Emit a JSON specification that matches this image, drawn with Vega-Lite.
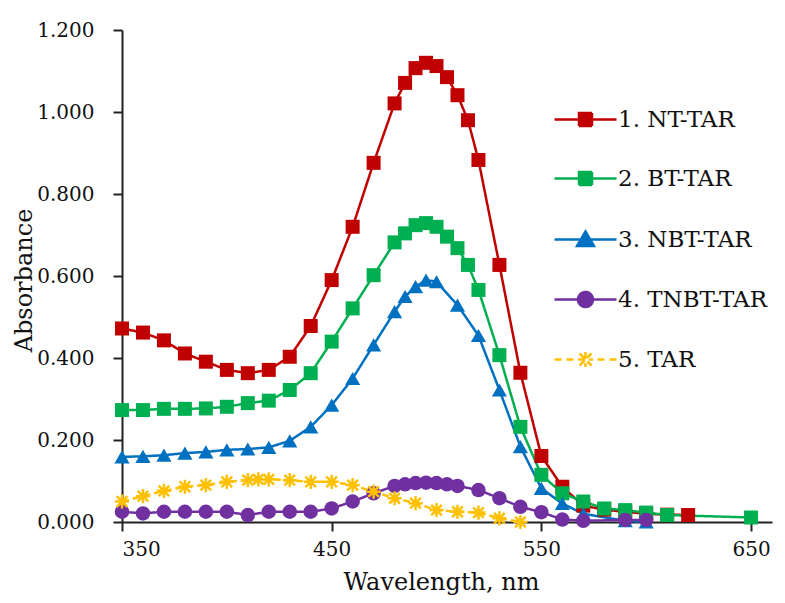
{
  "$schema": "https://vega.github.io/schema/vega-lite/v6.json",
  "width": 650,
  "height": 492,
  "autosize": {"type": "none"},
  "padding": {"left": 122, "top": 30, "right": 13, "bottom": 81},
  "background": "white",
  "config": {
    "view": {"stroke": null},
    "font": "DejaVu Serif",
    "axis": {
      "grid": false,
      "domainColor": "#222",
      "domainWidth": 2,
      "tickColor": "#222",
      "tickWidth": 2,
      "tickSize": 9,
      "labelFont": "DejaVu Serif",
      "labelFontSize": 20,
      "labelColor": "#111",
      "titleFont": "DejaVu Serif",
      "titleFontWeight": "normal",
      "titleColor": "#111"
    }
  },
  "datasets": {
    "spectra": [
      {"series": "1. NT-TAR", "wl": 350, "a": 0.472},
      {"series": "1. NT-TAR", "wl": 360, "a": 0.462},
      {"series": "1. NT-TAR", "wl": 370, "a": 0.443},
      {"series": "1. NT-TAR", "wl": 380, "a": 0.411},
      {"series": "1. NT-TAR", "wl": 390, "a": 0.391},
      {"series": "1. NT-TAR", "wl": 400, "a": 0.371},
      {"series": "1. NT-TAR", "wl": 410, "a": 0.363},
      {"series": "1. NT-TAR", "wl": 420, "a": 0.371},
      {"series": "1. NT-TAR", "wl": 430, "a": 0.403},
      {"series": "1. NT-TAR", "wl": 440, "a": 0.478},
      {"series": "1. NT-TAR", "wl": 450, "a": 0.59},
      {"series": "1. NT-TAR", "wl": 460, "a": 0.72},
      {"series": "1. NT-TAR", "wl": 470, "a": 0.876},
      {"series": "1. NT-TAR", "wl": 480, "a": 1.021},
      {"series": "1. NT-TAR", "wl": 485, "a": 1.071},
      {"series": "1. NT-TAR", "wl": 490, "a": 1.107},
      {"series": "1. NT-TAR", "wl": 495, "a": 1.12},
      {"series": "1. NT-TAR", "wl": 500, "a": 1.112},
      {"series": "1. NT-TAR", "wl": 505, "a": 1.085},
      {"series": "1. NT-TAR", "wl": 510, "a": 1.041},
      {"series": "1. NT-TAR", "wl": 515, "a": 0.98},
      {"series": "1. NT-TAR", "wl": 520, "a": 0.883},
      {"series": "1. NT-TAR", "wl": 530, "a": 0.627},
      {"series": "1. NT-TAR", "wl": 540, "a": 0.364},
      {"series": "1. NT-TAR", "wl": 550, "a": 0.161},
      {"series": "1. NT-TAR", "wl": 560, "a": 0.086},
      {"series": "1. NT-TAR", "wl": 570, "a": 0.04},
      {"series": "1. NT-TAR", "wl": 580, "a": 0.03},
      {"series": "1. NT-TAR", "wl": 590, "a": 0.025},
      {"series": "1. NT-TAR", "wl": 600, "a": 0.02},
      {"series": "1. NT-TAR", "wl": 610, "a": 0.018},
      {"series": "1. NT-TAR", "wl": 620, "a": 0.017},
      {"series": "2. BT-TAR", "wl": 350, "a": 0.273},
      {"series": "2. BT-TAR", "wl": 360, "a": 0.273},
      {"series": "2. BT-TAR", "wl": 370, "a": 0.276},
      {"series": "2. BT-TAR", "wl": 380, "a": 0.276},
      {"series": "2. BT-TAR", "wl": 390, "a": 0.277},
      {"series": "2. BT-TAR", "wl": 400, "a": 0.281},
      {"series": "2. BT-TAR", "wl": 410, "a": 0.29},
      {"series": "2. BT-TAR", "wl": 420, "a": 0.296},
      {"series": "2. BT-TAR", "wl": 430, "a": 0.322},
      {"series": "2. BT-TAR", "wl": 440, "a": 0.363},
      {"series": "2. BT-TAR", "wl": 450, "a": 0.44},
      {"series": "2. BT-TAR", "wl": 460, "a": 0.521},
      {"series": "2. BT-TAR", "wl": 470, "a": 0.602},
      {"series": "2. BT-TAR", "wl": 480, "a": 0.682},
      {"series": "2. BT-TAR", "wl": 485, "a": 0.704},
      {"series": "2. BT-TAR", "wl": 490, "a": 0.724},
      {"series": "2. BT-TAR", "wl": 495, "a": 0.729},
      {"series": "2. BT-TAR", "wl": 500, "a": 0.72},
      {"series": "2. BT-TAR", "wl": 505, "a": 0.696},
      {"series": "2. BT-TAR", "wl": 510, "a": 0.668},
      {"series": "2. BT-TAR", "wl": 515, "a": 0.627},
      {"series": "2. BT-TAR", "wl": 520, "a": 0.566},
      {"series": "2. BT-TAR", "wl": 530, "a": 0.407},
      {"series": "2. BT-TAR", "wl": 540, "a": 0.232},
      {"series": "2. BT-TAR", "wl": 550, "a": 0.115},
      {"series": "2. BT-TAR", "wl": 560, "a": 0.07},
      {"series": "2. BT-TAR", "wl": 570, "a": 0.05},
      {"series": "2. BT-TAR", "wl": 580, "a": 0.033},
      {"series": "2. BT-TAR", "wl": 590, "a": 0.029},
      {"series": "2. BT-TAR", "wl": 600, "a": 0.023},
      {"series": "2. BT-TAR", "wl": 610, "a": 0.017},
      {"series": "2. BT-TAR", "wl": 650, "a": 0.011},
      {"series": "3. NBT-TAR", "wl": 350, "a": 0.159},
      {"series": "3. NBT-TAR", "wl": 360, "a": 0.16},
      {"series": "3. NBT-TAR", "wl": 370, "a": 0.163},
      {"series": "3. NBT-TAR", "wl": 380, "a": 0.168},
      {"series": "3. NBT-TAR", "wl": 390, "a": 0.171},
      {"series": "3. NBT-TAR", "wl": 400, "a": 0.176},
      {"series": "3. NBT-TAR", "wl": 410, "a": 0.178},
      {"series": "3. NBT-TAR", "wl": 420, "a": 0.182},
      {"series": "3. NBT-TAR", "wl": 430, "a": 0.198},
      {"series": "3. NBT-TAR", "wl": 440, "a": 0.232},
      {"series": "3. NBT-TAR", "wl": 450, "a": 0.285},
      {"series": "3. NBT-TAR", "wl": 460, "a": 0.35},
      {"series": "3. NBT-TAR", "wl": 470, "a": 0.432},
      {"series": "3. NBT-TAR", "wl": 480, "a": 0.513},
      {"series": "3. NBT-TAR", "wl": 485, "a": 0.55},
      {"series": "3. NBT-TAR", "wl": 490, "a": 0.574},
      {"series": "3. NBT-TAR", "wl": 495, "a": 0.59},
      {"series": "3. NBT-TAR", "wl": 500, "a": 0.586},
      {"series": "3. NBT-TAR", "wl": 510, "a": 0.529},
      {"series": "3. NBT-TAR", "wl": 520, "a": 0.455},
      {"series": "3. NBT-TAR", "wl": 530, "a": 0.322},
      {"series": "3. NBT-TAR", "wl": 540, "a": 0.184},
      {"series": "3. NBT-TAR", "wl": 550, "a": 0.082},
      {"series": "3. NBT-TAR", "wl": 560, "a": 0.045},
      {"series": "3. NBT-TAR", "wl": 570, "a": 0.02},
      {"series": "3. NBT-TAR", "wl": 590, "a": 0.003},
      {"series": "3. NBT-TAR", "wl": 600, "a": 0.0},
      {"series": "4. TNBT-TAR", "wl": 350, "a": 0.025},
      {"series": "4. TNBT-TAR", "wl": 360, "a": 0.021},
      {"series": "4. TNBT-TAR", "wl": 370, "a": 0.025},
      {"series": "4. TNBT-TAR", "wl": 380, "a": 0.025},
      {"series": "4. TNBT-TAR", "wl": 390, "a": 0.025},
      {"series": "4. TNBT-TAR", "wl": 400, "a": 0.025},
      {"series": "4. TNBT-TAR", "wl": 410, "a": 0.017},
      {"series": "4. TNBT-TAR", "wl": 420, "a": 0.025},
      {"series": "4. TNBT-TAR", "wl": 430, "a": 0.025},
      {"series": "4. TNBT-TAR", "wl": 440, "a": 0.025},
      {"series": "4. TNBT-TAR", "wl": 450, "a": 0.033},
      {"series": "4. TNBT-TAR", "wl": 460, "a": 0.05},
      {"series": "4. TNBT-TAR", "wl": 470, "a": 0.07},
      {"series": "4. TNBT-TAR", "wl": 480, "a": 0.088},
      {"series": "4. TNBT-TAR", "wl": 485, "a": 0.092},
      {"series": "4. TNBT-TAR", "wl": 490, "a": 0.095},
      {"series": "4. TNBT-TAR", "wl": 495, "a": 0.096},
      {"series": "4. TNBT-TAR", "wl": 500, "a": 0.095},
      {"series": "4. TNBT-TAR", "wl": 505, "a": 0.092},
      {"series": "4. TNBT-TAR", "wl": 510, "a": 0.088},
      {"series": "4. TNBT-TAR", "wl": 520, "a": 0.078},
      {"series": "4. TNBT-TAR", "wl": 530, "a": 0.058},
      {"series": "4. TNBT-TAR", "wl": 540, "a": 0.037},
      {"series": "4. TNBT-TAR", "wl": 550, "a": 0.024},
      {"series": "4. TNBT-TAR", "wl": 560, "a": 0.006},
      {"series": "4. TNBT-TAR", "wl": 570, "a": 0.003},
      {"series": "4. TNBT-TAR", "wl": 590, "a": 0.005},
      {"series": "4. TNBT-TAR", "wl": 600, "a": 0.005},
      {"series": "5. TAR", "wl": 350, "a": 0.05},
      {"series": "5. TAR", "wl": 360, "a": 0.063},
      {"series": "5. TAR", "wl": 370, "a": 0.076},
      {"series": "5. TAR", "wl": 380, "a": 0.086},
      {"series": "5. TAR", "wl": 390, "a": 0.09},
      {"series": "5. TAR", "wl": 400, "a": 0.098},
      {"series": "5. TAR", "wl": 410, "a": 0.102},
      {"series": "5. TAR", "wl": 415, "a": 0.104},
      {"series": "5. TAR", "wl": 420, "a": 0.104},
      {"series": "5. TAR", "wl": 430, "a": 0.102},
      {"series": "5. TAR", "wl": 440, "a": 0.098},
      {"series": "5. TAR", "wl": 450, "a": 0.098},
      {"series": "5. TAR", "wl": 460, "a": 0.09},
      {"series": "5. TAR", "wl": 470, "a": 0.074},
      {"series": "5. TAR", "wl": 480, "a": 0.058},
      {"series": "5. TAR", "wl": 490, "a": 0.046},
      {"series": "5. TAR", "wl": 500, "a": 0.029},
      {"series": "5. TAR", "wl": 510, "a": 0.025},
      {"series": "5. TAR", "wl": 520, "a": 0.023},
      {"series": "5. TAR", "wl": 530, "a": 0.009},
      {"series": "5. TAR", "wl": 540, "a": 0.0}
    ]
  },
  "data": {"name": "spectra"},
  "encoding": {
    "x": {
      "field": "wl",
      "type": "quantitative",
      "scale": {"domain": [350, 660], "nice": false, "zero": false},
      "axis": {
        "values": [350, 450, 550, 650],
        "format": "d",
        "labelPadding": 8,
        "title": "Wavelength,  nm",
        "titleFontSize": 24,
        "titleX": 319,
        "titleY": 67,
        "titleBaseline": "alphabetic",
        "titleAlign": "center"
      }
    },
    "y": {
      "field": "a",
      "type": "quantitative",
      "scale": {"domain": [0, 1.2], "nice": false},
      "axis": {
        "values": [0, 0.2, 0.4, 0.6, 0.8, 1.0, 1.2],
        "format": ".3f",
        "labelPadding": 19,
        "title": "Absorbance",
        "titleFontSize": 24,
        "titleAngle": 270,
        "titleX": -98,
        "titleY": 250,
        "titleBaseline": "middle",
        "titleAlign": "center"
      }
    },
    "color": {
      "field": "series",
      "type": "nominal",
      "scale": {
        "domain": ["1. NT-TAR", "2. BT-TAR", "3. NBT-TAR", "4. TNBT-TAR", "5. TAR"],
        "range": ["#C00000", "#00B050", "#0070C0", "#7030A0", "#FFC000"]
      },
      "legend": {
        "orient": "none",
        "legendX": 452,
        "legendY": 78,
        "title": null,
        "padding": 0,
        "labelFont": "DejaVu Serif",
        "labelFontSize": 23,
        "labelColor": "#111",
        "labelOffset": 21,
        "symbolSize": 400,
        "rowPadding": 35,
        "encode": {
          "symbols": {
            "update": {
              "shape": {"signal": "(datum.value === '1. NT-TAR' || datum.value === '2. BT-TAR') ? 'M-3.1,0H3.1M-0.65,-0.65H0.65V0.65H-0.65Z' : datum.value === '3. NBT-TAR' ? 'M-3.1,0H3.1M0,-0.8L0.85,0.65H-0.85Z' : datum.value === '4. TNBT-TAR' ? 'M-3.1,0H3.1M-0.75,0A0.75,0.75,0,1,0,0.75,0A0.75,0.75,0,1,0,-0.75,0Z' : 'M-3.1,0H-2.4M-1.9,0H-1.2M1.2,0H1.9M2.4,0H3.1M-0.75,0H0.75M0,-0.75V0.75M-0.6,-0.6L0.6,0.6M-0.6,0.6L0.6,-0.6'"},
              "stroke": {"scale": "color", "field": "value"},
              "fill": {"scale": "color", "field": "value"},
              "strokeWidth": {"value": 2.5},
              "opacity": {"value": 1},
              "fillOpacity": {"value": 1}
            }
          }
        }
      }
    }
  },
  "layer": [
    {
      "mark": {"type": "line", "strokeWidth": 2.5},
      "encoding": {
        "strokeDash": {
          "field": "series",
          "type": "nominal",
          "scale": {
            "domain": ["1. NT-TAR", "2. BT-TAR", "3. NBT-TAR", "4. TNBT-TAR", "5. TAR"],
            "range": [[1, 0], [1, 0], [1, 0], [1, 0], [7, 4]]
          },
          "legend": null
        }
      }
    },
    {
      "transform": [{"filter": "datum.series === '1. NT-TAR' || datum.series === '2. BT-TAR'"}],
      "mark": {"type": "square", "filled": true, "opacity": 1, "size": 196}
    },
    {
      "transform": [{"filter": "datum.series === '3. NBT-TAR'"}],
      "mark": {"type": "point", "shape": "triangle-up", "filled": true, "opacity": 1, "size": 230}
    },
    {
      "transform": [{"filter": "datum.series === '4. TNBT-TAR'"}],
      "mark": {"type": "circle", "opacity": 1, "size": 210}
    },
    {
      "transform": [{"filter": "datum.series === '5. TAR'"}],
      "mark": {"type": "point", "shape": "M0,-1V1M-1,0H1M-0.75,-0.75L0.75,0.75M-0.75,0.75L0.75,-0.75", "filled": false, "opacity": 1, "strokeWidth": 2.5, "size": 200}
    }
  ]
}
